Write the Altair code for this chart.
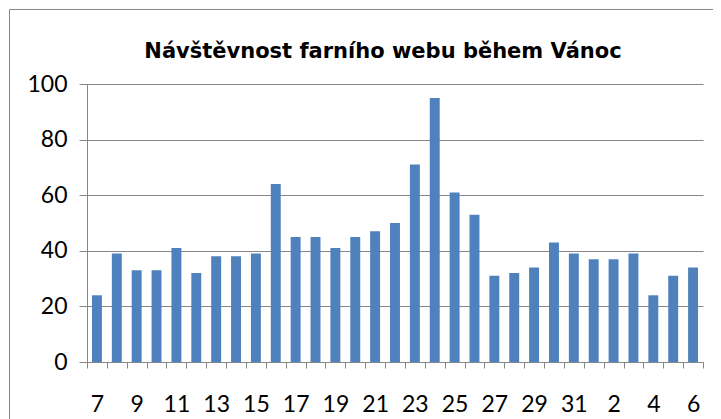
import altair as alt
import pandas as pd

days = ["7", "8", "9", "10", "11", "12", "13", "14", "15", "16", "17", "18", "19", "20",
        "21", "22", "23", "24", "25", "26", "27", "28", "29", "30", "31",
        "1", "2", "3", "4", "5", "6"]
visits = [24, 39, 33, 33, 41, 32, 38, 38, 39, 64, 45, 45, 41, 45,
          47, 50, 71, 95, 61, 53, 31, 32, 34, 43, 39,
          37, 37, 39, 24, 31, 34]
shown_labels = ["7", "9", "11", "13", "15", "17", "19", "21", "23", "25", "27", "29", "31",
                "2", "4", "6"]
y_ticks = [0, 20, 40, 60, 80, 100]
title_text = "Návštěvnost  farního webu během Vánoc"

df = pd.DataFrame({"day": days, "visits": visits})

GRAY = "#868686"
FONT = "Lato"

label_list = "[" + ",".join("'" + s + "'" for s in shown_labels) + "]"

bars = alt.Chart(df).mark_bar(width=alt.RelativeBandSize(0.5), color="#4F81BD").encode(
    x=alt.X("day:O", sort=days, title=None,
            scale=alt.Scale(paddingInner=0, paddingOuter=0),
            axis=alt.Axis(tickBand="extent", labelAngle=0, grid=False,
                          labelExpr="indexof(" + label_list + ", datum.value) >= 0 ? datum.label : ''",
                          labelFontSize=23, labelFont=FONT, labelColor="#000000",
                          labelPadding=25, tickSize=6, tickColor=GRAY,
                          domainColor=GRAY, labelOverlap=False)),
    y=alt.Y("visits:Q", title=None,
            scale=alt.Scale(domain=[0, 100]),
            axis=alt.Axis(values=y_ticks, grid=True, gridColor=GRAY, tickSize=8,
                          tickColor=GRAY, domainColor=GRAY, labelFontSize=23,
                          labelFont=FONT, labelColor="#000000", labelPadding=12)),
)

frame_top = alt.Chart(alt.Data(values=[{}])).mark_rule(
    stroke=GRAY, strokeWidth=1, clip=False
).encode(
    x=alt.value(-77.5), x2=alt.value(1500), y=alt.value(-74.5),
)
frame_left = alt.Chart(alt.Data(values=[{}])).mark_rule(
    stroke=GRAY, strokeWidth=1, clip=False
).encode(
    x=alt.value(-77.5), y=alt.value(-74.5), y2=alt.value(1000),
)

title = alt.Chart(alt.Data(values=[{"t": title_text}])).mark_text(
    font="DejaVu Sans", fontSize=21, fontWeight="bold", color="#000000",
    align="center", baseline="middle", clip=False
).encode(
    text="t:N", x=alt.value(296), y=alt.value(-32),
)

chart = alt.layer(frame_top, frame_left, bars, title).properties(
    width=616, height=278,
    autosize=alt.AutoSizeParams(type="none"),
    padding={"left": 79, "top": 76, "right": 10, "bottom": 57},
).configure_view(stroke=None)

chart.save("out.html", embed_options={"renderer": "svg", "actions": False})
